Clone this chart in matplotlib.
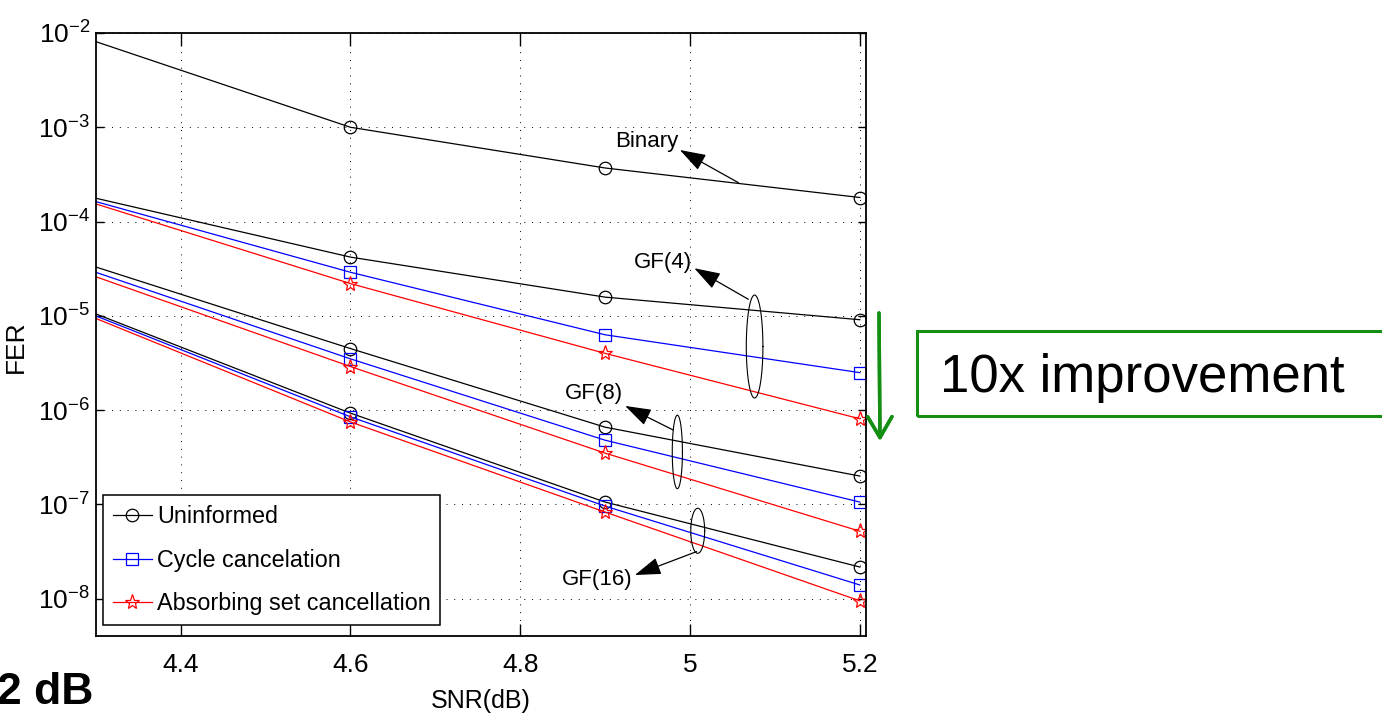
import numpy as np
import matplotlib
matplotlib.use("Agg")
import matplotlib.pyplot as plt
from matplotlib import font_manager
from matplotlib.patches import Rectangle
from matplotlib.ticker import LogLocator, LogFormatterSciNotation, NullLocator

# pick a narrow sans if available
names = {f.name for f in font_manager.fontManager.ttflist}
narrow = "Liberation Sans Narrow" if "Liberation Sans Narrow" in names else "Liberation Sans"

plt.rcParams["font.family"] = [narrow, "DejaVu Sans"]
plt.rcParams["mathtext.fontset"] = "custom"
plt.rcParams["mathtext.rm"] = narrow
plt.rcParams["mathtext.it"] = narrow
plt.rcParams["mathtext.bf"] = narrow

# data
snr = [4.3, 4.6, 4.9, 5.2]
binary = [8.1e-3, 1.0e-3, 3.7e-4, 1.8e-4]
gf4_unf = [1.77e-4, 4.2e-5, 1.58e-5, 9.1e-6]
gf4_cyc = [1.63e-4, 2.9e-5, 6.3e-6, 2.5e-6]
gf4_abs = [1.54e-4, 2.2e-5, 4.0e-6, 8.1e-7]
gf8_unf = [3.3e-5, 4.5e-6, 6.6e-7, 2.0e-7]
gf8_cyc = [2.9e-5, 3.5e-6, 4.8e-7, 1.06e-7]
gf8_abs = [2.6e-5, 2.9e-6, 3.5e-7, 5.2e-8]
gf16_unf = [1.05e-5, 9.3e-7, 1.06e-7, 2.17e-8]
gf16_cyc = [1.0e-5, 8.5e-7, 9.6e-8, 1.4e-8]
gf16_abs = [9.4e-6, 7.5e-7, 8.3e-8, 9.5e-9]

legend_labels = ["Uninformed", "Cycle cancelation", "Absorbing set cancellation"]
x_ticks = [4.4, 4.6, 4.8, 5.0, 5.2]
x_ticklabels = ["4.4", "4.6", "4.8", "5", "5.2"]

fig = plt.figure(figsize=(13.82, 7.17), dpi=100)
ax = fig.add_axes([0.0693, 0.113, 0.5572, 0.841])

styles = [
    dict(color="k", marker="o"),
    dict(color="b", marker="s"),
    dict(color="r", marker="*"),
]
common = dict(lw=0.9, mfc="none", markevery=[1, 2, 3])

ax.plot(snr, binary, ms=9, mew=0.9, **styles[0], **common)
groups = [
    (gf4_unf, gf4_cyc, gf4_abs),
    (gf8_unf, gf8_cyc, gf8_abs),
    (gf16_unf, gf16_cyc, gf16_abs),
]
for gi, grp in enumerate(groups):
    for si, ys in enumerate(grp):
        ms = {"o": 9, "s": 8, "*": 11}[styles[si]["marker"]]
        ax.plot(snr, ys, ms=ms, mew=0.9,
                label=legend_labels[si] if gi == 0 else None,
                **styles[si], **common)

ax.set_yscale("log")
ax.set_xlim(4.3, 5.207)
ax.set_ylim(4.03e-9, 1e-2)
ax.yaxis.set_major_locator(LogLocator(base=10, numticks=20))
ax.yaxis.set_minor_locator(NullLocator())
ax.yaxis.set_major_formatter(LogFormatterSciNotation())
ax.set_xticks(x_ticks)
ax.set_xticklabels(x_ticklabels)

ax.tick_params(axis="both", which="major", direction="in", top=True, right=True,
               labelsize=19, width=1.0)
ax.tick_params(axis="x", length=9, pad=12)
ax.tick_params(axis="y", length=6, pad=4)
for s in ax.spines.values():
    s.set_linewidth(1.3)
ax.grid(True, which="major", color="k", lw=0.7, linestyle=(0, (1, 7)))

ax.set_xlabel("SNR(dB)", fontsize=18, labelpad=9)
ax.set_ylabel("FER", fontsize=19)
ax.yaxis.set_label_coords(-0.088, 0.48)

leg = ax.legend(loc="lower left", bbox_to_anchor=(0.009, 0.018), fontsize=16.8,
                frameon=True, fancybox=False, edgecolor="k", framealpha=1,
                handlelength=1.7, handletextpad=0.2, labelspacing=0.88,
                borderpad=0.42, borderaxespad=0)
leg.get_frame().set_linewidth(1.1)


# ellipses drawn in (x, log y) space
def ellipse(cx, cy_log, half_w, half_h_log):
    t = np.linspace(0, 2 * np.pi, 200)
    ax.plot(cx + half_w * np.cos(t), 10 ** (cy_log + half_h_log * np.sin(t)),
            color="k", lw=0.8)


ellipse(5.076, -5.325, 0.0098, 0.546)
ellipse(4.985, -6.443, 0.006, 0.39)
ellipse(5.009, -7.279, 0.0082, 0.239)

arrow = dict(arrowstyle="-|>,head_length=0.9,head_width=0.3", color="k",
             lw=0.9, shrinkA=0, shrinkB=0, mutation_scale=18)
notes = [
    ("Binary", (4.988, -3.241), (5.057, -3.588), (4.986, -3.153)),
    ("GF(4)", (5.005, -4.495), (5.0686, -4.824), (5.002, -4.432)),
    ("GF(8)", (4.9235, -5.955), (4.980, -6.21), (4.9205, -5.821)),
    ("GF(16)", (4.935, -7.748), (5.0077, -7.50), (4.932, -7.80)),
]
for label, head, tail, txt in notes:
    ax.annotate("", xy=(head[0], 10 ** head[1]), xytext=(tail[0], 10 ** tail[1]),
                arrowprops=arrow)
    ax.text(txt[0], 10 ** txt[1], label, fontsize=16, ha="right", va="center")

# slide overlays
green = "#148f14"
fig.patches.append(Rectangle((917 / 1382, 1 - 416 / 717), 0.4, 85 / 717,
                             transform=fig.transFigure, fill=False,
                             edgecolor=green, lw=2.2))
fig.text(940 / 1382, 1 - 378 / 717, "10x improvement", fontsize=38,
         family="Liberation Sans", va="center", ha="left")
fig.add_artist(plt.annotate("", xy=(880 / 1382, 1 - 441 / 717),
                            xytext=(879 / 1382, 1 - 313 / 717),
                            xycoords="figure fraction",
                            arrowprops=dict(arrowstyle="->,head_length=0.6,head_width=0.35",
                                            color=green, lw=2.5, mutation_scale=25,
                                            shrinkA=0, shrinkB=0)))
fig.text(-3 / 1382, 1 - 692 / 717, "2 dB", fontsize=32, fontweight="bold",
         family="Liberation Sans", va="center", ha="left")

fig.savefig("out.png", dpi=100)
